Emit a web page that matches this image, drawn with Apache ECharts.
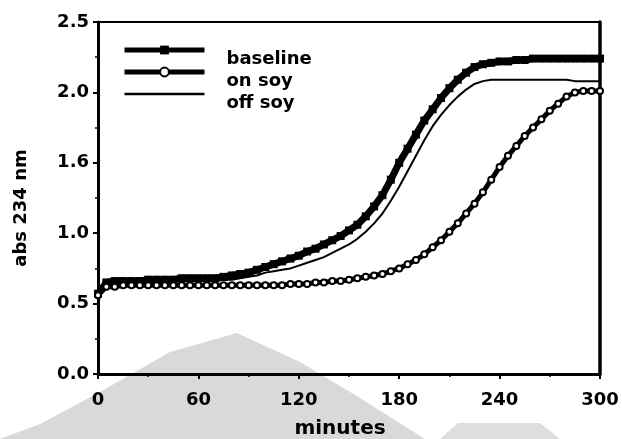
<!DOCTYPE html>
<html>
<head>
<meta charset="utf-8">
<script src="https://cdn.jsdelivr.net/npm/echarts@6/dist/echarts.min.js"></script>
<style>
  html, body { margin: 0; padding: 0; background: #fff; }
  #chart { width: 622px; height: 439px; }
</style>
</head>
<body>
<div id="chart"></div>
<script>
  // 时间 (minutes), 每5分钟读一个点
  const times = [0, 5, 10, 15, 20, 25, 30, 35, 40, 45, 50, 55, 60, 65, 70, 75, 80, 85, 90, 95,
    100, 105, 110, 115, 120, 125, 130, 135, 140, 145, 150, 155, 160, 165, 170, 175, 180, 185, 190, 195,
    200, 205, 210, 215, 220, 225, 230, 235, 240, 245, 250, 255, 260, 265, 270, 275, 280, 285, 290, 295, 300]
  const baseline = [0.57, 0.65, 0.66, 0.66, 0.66, 0.66, 0.67, 0.67, 0.67, 0.67, 0.68, 0.68, 0.68, 0.68, 0.68, 0.69, 0.70, 0.71, 0.72, 0.74,
    0.76, 0.78, 0.80, 0.82, 0.84, 0.87, 0.89, 0.92, 0.95, 0.98, 1.02, 1.06, 1.12, 1.19, 1.27, 1.38, 1.50, 1.60, 1.70, 1.80,
    1.88, 1.96, 2.03, 2.09, 2.14, 2.18, 2.20, 2.21, 2.22, 2.22, 2.23, 2.23, 2.24, 2.24, 2.24, 2.24, 2.24, 2.24, 2.24, 2.24, 2.24]
  const onSoy = [0.56, 0.62, 0.62, 0.63, 0.63, 0.63, 0.63, 0.63, 0.63, 0.63, 0.63, 0.63, 0.63, 0.63, 0.63, 0.63, 0.63, 0.63, 0.63, 0.63,
    0.63, 0.63, 0.63, 0.64, 0.64, 0.64, 0.65, 0.65, 0.66, 0.66, 0.67, 0.68, 0.69, 0.70, 0.71, 0.73, 0.75, 0.78, 0.81, 0.85,
    0.90, 0.95, 1.01, 1.07, 1.14, 1.21, 1.29, 1.38, 1.47, 1.55, 1.62, 1.69, 1.75, 1.81, 1.87, 1.92, 1.97, 2.00, 2.01, 2.01, 2.01]
  const offSoy = [0.60, 0.64, 0.65, 0.65, 0.65, 0.65, 0.65, 0.65, 0.65, 0.66, 0.66, 0.66, 0.66, 0.66, 0.66, 0.67, 0.67, 0.68, 0.69, 0.70,
    0.72, 0.73, 0.74, 0.75, 0.77, 0.79, 0.81, 0.83, 0.86, 0.89, 0.92, 0.96, 1.01, 1.07, 1.14, 1.23, 1.33, 1.44, 1.55, 1.66,
    1.76, 1.84, 1.91, 1.97, 2.02, 2.06, 2.08, 2.09, 2.09, 2.09, 2.09, 2.09, 2.09, 2.09, 2.09, 2.09, 2.09, 2.08, 2.08, 2.08, 2.08]
  const yTickLabels = ['0.0', '0.5', '1.0', '1.6', '2.0', '2.5']

  const font = 'DejaVu Sans'
  const pairs = arr => times.map((t, i) => [t, arr[i]])

  let chart = echarts.init(document.getElementById('chart'))
  let option = {
    animation: false,
    backgroundColor: '#fff',
    graphic: [{
      // 背景水印
      type: 'polygon',
      z: -10,
      shape: { points: [[0, 439], [40, 424], [100, 392], [170, 352], [237, 333], [300, 362], [360, 398], [425, 439]] },
      style: { fill: '#d9d9d9' }
    }, {
      type: 'polygon',
      z: -10,
      shape: { points: [[440, 439], [458, 423], [540, 423], [560, 439]] },
      style: { fill: '#dedede' }
    }],
    grid: {
      left: 98, right: 22, top: 22, bottom: 65,
      outerBoundsMode: 'none',
      containLabel: false,
      show: true, borderColor: '#000', borderWidth: 2
    },
    legend: {
      orient: 'vertical',
      left: 122, top: 41,
      padding: 0,
      itemWidth: 80, itemHeight: 11,
      itemGap: -5,
      formatter: name => '{s| }{t|' + name + '}',
      textStyle: {
        fontFamily: font, fontWeight: 'bold', fontSize: 18, color: '#000',
        rich: {
          s: { width: 17, lineHeight: 36, fontSize: 18 },
          t: { fontFamily: font, fontWeight: 'bold', fontSize: 18, color: '#000', lineHeight: 20, verticalAlign: 'bottom' }
        }
      },
      data: [
        { name: 'baseline', lineStyle: { width: 5 } },
        { name: 'on soy', lineStyle: { width: 5 } },
        { name: 'off soy', lineStyle: { width: 2.5 }, itemStyle: { opacity: 0 } }
      ]
    },
    xAxis: {
      type: 'value',
      min: 0, max: 300, interval: 60,
      name: 'minutes',
      nameLocation: 'middle',
      nameGap: 45,
      nameTextStyle: { fontFamily: font, fontWeight: 'bold', fontSize: 20, color: '#000', padding: [0, 18, 0, 0] },
      axisLine: { lineStyle: { color: '#000', width: 3 } },
      axisTick: { length: 5, lineStyle: { color: '#000', width: 2 } },
      minorTick: { show: true, splitNumber: 2, length: 3, lineStyle: { color: '#000', width: 1.5 } },
      splitLine: { show: false },
      axisLabel: { fontFamily: font, fontWeight: 'bold', fontSize: 18, color: '#000', margin: 17 }
    },
    yAxis: [{
      type: 'value',
      min: 0, max: 2.5, interval: 0.5,
      name: 'abs 234 nm',
      nameLocation: 'middle',
      nameRotate: 90,
      nameGap: 68,
      nameTextStyle: { fontFamily: font, fontWeight: 'bold', fontSize: 18, color: '#000', padding: [0, 20, 0, 0] },
      axisLine: { show: true, lineStyle: { color: '#000', width: 3 } },
      axisTick: { show: true, length: 5, lineStyle: { color: '#000', width: 2 } },
      minorTick: { show: true, splitNumber: 2, length: 3, lineStyle: { color: '#000', width: 1.5 } },
      splitLine: { show: false },
      axisLabel: {
        fontFamily: font, fontWeight: 'bold', fontSize: 18, color: '#000', margin: 9,
        formatter: v => yTickLabels[Math.round(v / 0.5)]
      }
    }, {
      type: 'value',
      position: 'right',
      min: 0, max: 2.5,
      axisLine: { show: true, lineStyle: { color: '#000', width: 3.5 } },
      axisTick: { show: false },
      axisLabel: { show: false },
      splitLine: { show: false }
    }],
    series: [{
      name: 'baseline',
      type: 'line',
      data: pairs(baseline),
      symbol: 'rect',
      symbolSize: 8,
      showAllSymbol: true,
      itemStyle: { color: '#000' },
      lineStyle: { color: '#000', width: 7 }
    }, {
      name: 'off soy',
      type: 'line',
      data: pairs(offSoy),
      symbol: 'none',
      itemStyle: { color: '#000' },
      lineStyle: { color: '#000', width: 2 }
    }, {
      name: 'on soy',
      type: 'line',
      data: pairs(onSoy),
      symbol: 'emptyCircle',
      symbolSize: 6,
      showAllSymbol: true,
      itemStyle: { color: '#000', borderWidth: 2 },
      lineStyle: { color: '#000', width: 5 }
    }]
  }
  chart.setOption(option, true)
  window.onresize = chart.resize
</script>
</body>
</html>
